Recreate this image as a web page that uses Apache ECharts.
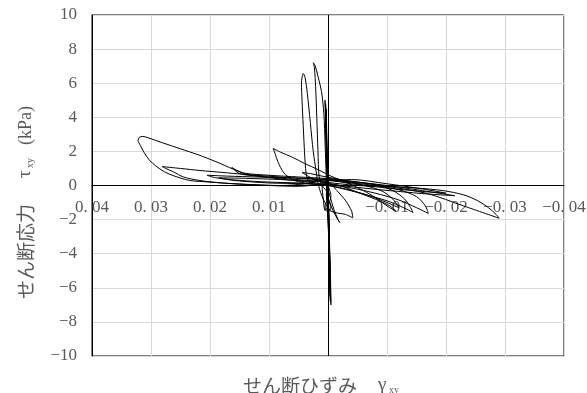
<!DOCTYPE html>
<html>
<head>
<meta charset="utf-8">
<script src="https://cdn.jsdelivr.net/npm/echarts@6/dist/echarts.min.js"></script>
<style>html,body{margin:0;padding:0;background:#fff;}#c{width:587px;height:393px;}</style>
</head>
<body>
<div id="c"></div>
<script>
// Axis ticks
const xTicks = {min: -0.04, max: 0.04, step: 0.01};
const yTicks = {min: -10, max: 10, step: 2};

// Shear strain (γxy) and shear stress (τxy, kPa), segment by segment
const spikeGamma = [0,0.0002,0.0004,0.0005,0.0003,0.0001,-0.0001,-0.0003,-0.0004,-0.0002,0.0000,0.0002,0.0004,0.0003,-0.0001,-0.0003,-0.0005,-0.0004,-0.0001,0.0002];
const spikeTau   = [0,1.5,3.5,5.0,3.0,0.5,-2.0,-4.5,-6.3,-4.0,-1.0,1.5,4.2,2.0,-1.5,-4.5,-7.0,-5.0,-2.0,-0.5];

const spike2Gamma = [0.0001,0.0003,0.0004,0.0003,0.0001,-0.0001,-0.0003,-0.0004,-0.0002,0.0000,0.0002,0.0003,0.0002,0.0000,-0.0002,-0.0004,-0.0003,0.0000];
const spike2Tau   = [0.5,3.0,4.8,3.5,1.0,-2.0,-5.0,-6.8,-4.5,-1.5,2.0,4.5,3.0,0.0,-3.0,-6.5,-5.0,-0.5];

const tallLoopGamma = [0.0010,0.0015,0.0017,0.0019,0.0021,0.0023,0.0025,0.0022,0.0017,0.0011,0.0007,0.0005,0.0003,0.0001,-0.0002,-0.0004,-0.0002,0.0000];
const tallLoopTau   = [0.0,0.5,2.0,4.0,5.8,6.9,7.2,7.05,6.4,5.5,4.2,2.5,0.5,-1.5,-3.5,-6.6,-4.0,-1.5];

const negLoopGamma = [0.0003,-0.0005,-0.0015,-0.0020,-0.0017,-0.0010,-0.0003,0.0005];
const negLoopTau   = [-0.5,-1.2,-1.9,-2.17,-2.0,-1.4,-0.6,0.2];

const tallLoop2Gamma = [0.0020,0.0030,0.0036,0.0039,0.0042,0.0044,0.0045,0.0042,0.0039,0.0035,0.0030,0.0025,0.0020,0.0016,0.0008,-0.0005,-0.0030,-0.0042,-0.0040,-0.0030,-0.0015,0.0000];
const tallLoop2Tau   = [0.3,0.2,0.5,1.5,3.5,5.0,6.0,6.57,6.35,5.4,3.7,2.0,0.8,0.0,-0.8,-1.5,-1.7,-1.9,-1.5,-0.9,-0.3,0.2];

const midLoopGamma = [0.0010,0.0040,0.0060,0.0075,0.0085,0.0090,0.0093,0.0080,0.0060,0.0040,0.0015,-0.0005,-0.0030,-0.0060,-0.0080,-0.0100,-0.0115,-0.0105,-0.0080,-0.0050,-0.0020];
const midLoopTau   = [0.05,0.15,0.35,0.75,1.4,1.9,2.17,1.95,1.65,1.3,0.9,0.55,0.2,-0.3,-0.7,-1.2,-1.5,-1.2,-0.8,-0.4,0.0];

const bigLeftGamma = [0.0000,0.0050,0.0100,0.0150,0.0200,0.0235,0.0260,0.0277,0.0292,0.0303,0.0312,0.0318,0.0322,0.0320,0.0314,0.0305,0.0280,0.0250,0.0220,0.0190,0.0160,0.0140,0.0110,0.0070,0.0020,-0.0020];
const bigLeftTau   = [0.1,-0.05,0.0,0.08,0.2,0.3,0.55,0.8,1.15,1.5,1.95,2.35,2.65,2.82,2.88,2.8,2.5,2.15,1.8,1.4,0.95,0.68,0.52,0.4,0.25,0.1];

const bigRightGamma = [-0.0050,-0.0100,-0.0150,-0.0195,-0.0230,-0.0253,-0.0272,-0.0285,-0.0290,-0.0230,-0.0168,-0.0100,-0.0040,0.0000];
const bigRightTau   = [0.0,-0.05,-0.15,-0.3,-0.55,-0.88,-1.3,-1.7,-1.92,-1.2,-0.47,-0.05,0.25,0.4];

const left2Gamma = [0.0040,0.0080,0.0132,0.0180,0.0217,0.0245,0.0262,0.0275,0.0281,0.0250,0.0217,0.0180,0.0141,0.0090,0.0047,0.0000];
const left2Tau   = [0.1,0.0,0.06,0.15,0.29,0.5,0.8,1.0,1.11,1.0,0.88,0.77,0.65,0.52,0.41,0.3];

const right2Gamma = [-0.0040,-0.0080,-0.0120,-0.0150,-0.0165,-0.0170,-0.0150,-0.0120,-0.0080,-0.0040,0.0000];
const right2Tau   = [0.15,0.0,-0.25,-0.65,-1.2,-1.64,-1.3,-0.85,-0.45,-0.15,0.05];

const left3Gamma = [0.0050,0.0100,0.0150,0.0190,0.0205,0.0170,0.0120,0.0060,0.0000];
const left3Tau   = [0.15,0.2,0.3,0.45,0.6,0.55,0.5,0.45,0.35];

const right3Gamma = [-0.0040,-0.0080,-0.0110,-0.0130,-0.0140,-0.0144,-0.0125,-0.0100,-0.0060,-0.0020,0.0020];
const right3Tau   = [0.2,0.05,-0.3,-0.8,-1.3,-1.58,-1.25,-0.9,-0.5,-0.15,0.15];

const left4Gamma = [0.0060,0.0120,0.0150,0.0163,0.0155,0.0141,0.0100,0.0050,0.0000];
const left4Tau   = [0.3,0.55,0.7,1.06,0.9,0.72,0.6,0.5,0.4];

const right4Gamma = [-0.0050,-0.0100,-0.0160,-0.0215,-0.0170,-0.0120,-0.0060,0.0000];
const right4Tau   = [0.2,0.0,-0.3,-0.6,-0.5,-0.35,-0.15,0.1];

const smallLeftGamma = [0.0020,0.0044,0.0030,0.0010,-0.0020];
const smallLeftTau   = [0.3,0.76,0.7,0.55,0.35];

const right5Gamma = [-0.0050,-0.0090,-0.0110,-0.0120,-0.0100,-0.0070,-0.0030,0.0000];
const right5Tau   = [0.1,-0.3,-0.8,-1.3,-1.0,-0.6,-0.2,0.0];

const left5Gamma = [0.0040,0.0100,0.0160,0.0185,0.0140,0.0080,0.0020];
const left5Tau   = [0.1,0.15,0.3,0.45,0.42,0.35,0.25];

const right6Gamma = [-0.0040,-0.0100,-0.0160,-0.0200,-0.0160,-0.0100,-0.0040,0.0000];
const right6Tau   = [0.35,0.1,-0.2,-0.45,-0.35,-0.15,0.1,0.3];

const negLoop2Gamma = [0.0010,0.0008,0.0005,0.0000,-0.0005,0.0000];
const negLoop2Tau   = [0.0,-0.8,-1.47,-1.2,-0.6,0.0];

const segments = [
  [spikeGamma, spikeTau], [spike2Gamma, spike2Tau], [tallLoopGamma, tallLoopTau], [negLoopGamma, negLoopTau],
  [tallLoop2Gamma, tallLoop2Tau], [midLoopGamma, midLoopTau], [bigLeftGamma, bigLeftTau],
  [bigRightGamma, bigRightTau], [left2Gamma, left2Tau], [right2Gamma, right2Tau],
  [left3Gamma, left3Tau], [right3Gamma, right3Tau], [left4Gamma, left4Tau],
  [right4Gamma, right4Tau], [smallLeftGamma, smallLeftTau], [right5Gamma, right5Tau],
  [left5Gamma, left5Tau], [right6Gamma, right6Tau], [negLoop2Gamma, negLoop2Tau]
];
const pathData = [];
segments.forEach(([g, t]) => g.forEach((v, i) => pathData.push([v, t[i]])));

const txtColor = '#595959';
const numFont = 'Liberation Serif';
const jpFont = 'Noto Sans CJK JP';

function fmtX(v) {
  if (Math.abs(v) < 1e-9) return '0';
  return (v < 0 ? '\u2212' : '') + Math.abs(v).toFixed(2).replace('.', '. ');
}
function fmtY(v) {
  return (v < 0 ? '\u2212' : '') + Math.abs(v);
}

const nameRich = {
  a: {fontFamily: jpFont, fontSize: 19, color: txtColor, lineHeight: 22, verticalAlign: 'bottom'},
  b: {fontFamily: numFont, fontSize: 19, color: txtColor, lineHeight: 22, verticalAlign: 'bottom'},
  k: {fontFamily: numFont, fontSize: 18, color: txtColor, lineHeight: 22, verticalAlign: 'bottom'},
  s: {fontFamily: numFont, fontSize: 10, color: txtColor, lineHeight: 14, verticalAlign: 'bottom'},
  gx1: {width: 21, lineHeight: 22},
  gx2: {width: 14, lineHeight: 22},
  gy1: {width: 26, lineHeight: 22},
  gy2: {width: 13, lineHeight: 22},
  gy3: {width: 34, lineHeight: 22}
};

const chart = echarts.init(document.getElementById('c'), null, {renderer: 'canvas'});
chart.setOption({
  animation: false,
  grid: {left: 92, right: 23, top: 15, bottom: 37, show: true, borderColor: '#000', borderWidth: 1,
         backgroundColor: 'transparent', containLabel: false, outerBoundsMode: 'none'},
  xAxis: [{
    type: 'value', inverse: true, min: xTicks.min, max: xTicks.max, interval: xTicks.step,
    position: 'bottom',
    axisLine: {show: true, onZero: true, lineStyle: {color: '#000', width: 1}},
    axisTick: {show: false},
    axisLabel: {formatter: fmtX, color: txtColor, fontFamily: numFont, fontSize: 17, margin: -157},
    splitLine: {show: true, lineStyle: {color: '#d9d9d9', width: 1}}
  }, {
    type: 'value', inverse: true, min: xTicks.min, max: xTicks.max, interval: xTicks.step,
    position: 'bottom',
    axisLine: {show: false, onZero: false},
    axisTick: {show: false}, axisLabel: {show: false}, splitLine: {show: false},
    name: '{a|せん断ひずみ}{gx1| }{b|γ}{s| xy}{gx2| }',
    nameLocation: 'middle', nameGap: 17,
    nameTextStyle: {color: txtColor, rich: nameRich}
  }],
  yAxis: [{
    type: 'value', min: yTicks.min, max: yTicks.max, interval: yTicks.step,
    axisLine: {show: true, onZero: false, lineStyle: {color: '#000', width: 1}},
    axisTick: {show: false},
    axisLabel: {formatter: fmtY, color: txtColor, fontFamily: numFont, fontSize: 17, margin: 15},
    splitLine: {show: true, lineStyle: {color: '#d9d9d9', width: 1}},
    name: '{a|せん断応力}{gy1| }{b|τ}{s| xy}{gy2| }{k|(kPa)}{gy3| }',
    nameLocation: 'middle', nameGap: 57,
    nameTextStyle: {color: txtColor, rich: nameRich}
  }],
  series: [{
    type: 'line', xAxisIndex: 0, yAxisIndex: 0,
    data: pathData, showSymbol: false, symbol: 'none', smooth: 0.3,
    lineStyle: {color: '#000', width: 1},
    markLine: {
      silent: true, symbol: 'none', label: {show: false},
      lineStyle: {color: '#000', width: 1, type: 'solid'},
      data: [{xAxis: 0}]
    }
  }]
});
</script>
</body>
</html>
